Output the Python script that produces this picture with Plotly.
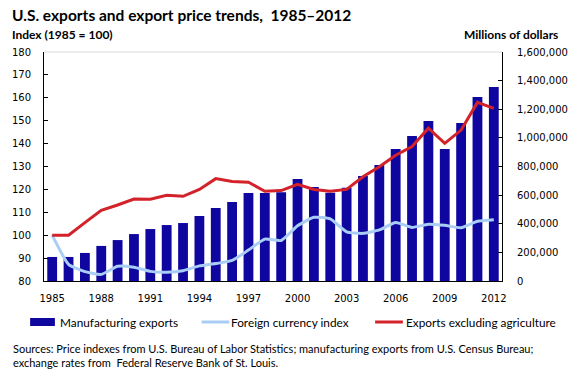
import plotly.graph_objects as go

years = list(range(1985, 2013))
manufacturing_exports = [168000, 168000, 196000, 245000, 286000, 328000, 363000, 391000, 405000,
                         454000, 510000, 552000, 615000, 615000, 620000, 713000, 657000, 617000,
                         652000, 734000, 811000, 922000, 1013000, 1118000, 922000, 1104000,
                         1286000, 1355000]
foreign_currency_index = [100, 87.3, 84.1, 82.9, 86.4, 86.0, 84.2, 83.8, 84.5, 86.6, 87.6, 89.0,
                          93.5, 98.3, 97.7, 104.1, 107.8, 107.1, 101.5, 100.8, 102.3, 105.5,
                          103.4, 104.8, 104.3, 103.3, 106.1, 106.8]
exports_excl_agriculture = [100, 100, 105.5, 110.9, 113.2, 115.8, 115.7, 117.4, 117.0, 120.0,
                            124.7, 123.5, 123.1, 119.2, 119.5, 122.2, 120.0, 119.2, 120.0, 125.5,
                            129.9, 134.9, 138.7, 146.7, 140.1, 145.9, 158.0, 155.4]
x_tick_years = list(range(1985, 2013, 3))
left_ticks = list(range(80, 181, 10))
right_ticks = list(range(0, 1600001, 200000))
right_tick_labels = [f"{v:,}" for v in right_ticks]

BAR_C = "#0F06A0"
BLUE_C = "#A9CDF5"
RED_C = "#D3222A"
TICK_FONT = dict(family="DejaVu Sans", size=10, color="#000000")
TEXT_FONT = "Lato"

L, R, T, B = 41, 503, 52, 281
W, H = 580, 380

def px_x(px):
    return (px - L) / (R - L)

def px_y(py):
    return (B - py) / (B - T)

fig = go.Figure()
fig.add_trace(go.Bar(x=years, y=manufacturing_exports, name="Manufacturing exports",
                     marker=dict(color=BAR_C, line=dict(width=0)), width=0.6, yaxis="y"))
fig.add_trace(go.Scatter(x=years, y=foreign_currency_index, name="Foreign currency index",
                         mode="lines", line=dict(color=BLUE_C, width=3, shape="spline", smoothing=0.5),
                         yaxis="y2"))
fig.add_trace(go.Scatter(x=years, y=exports_excl_agriculture, name="Exports excluding agriculture",
                         mode="lines", line=dict(color=RED_C, width=3), yaxis="y2"))

fig.update_layout(
    width=W, height=H,
    margin=dict(l=L, r=W - R, t=T, b=H - B, pad=0),
    paper_bgcolor="white", plot_bgcolor="white",
    showlegend=False,
    xaxis=dict(range=[1984.5, 2012.5], tickvals=x_tick_years, ticktext=[str(y) for y in x_tick_years],
               showgrid=False, zeroline=False, showline=True, linecolor="black", linewidth=1,
               ticks="", tickfont=TICK_FONT, ticklabelstandoff=8),
    yaxis=dict(range=[0, 1600000], side="right", tickvals=right_ticks, ticktext=right_tick_labels,
               showgrid=False, zeroline=False, showline=True, linecolor="black", linewidth=1,
               ticks="inside", ticklen=4, tickcolor="black", tickfont=TICK_FONT,
               ticklabelstandoff=12),
    yaxis2=dict(range=[80, 180], side="left", overlaying="y", tickvals=left_ticks,
                showgrid=False, zeroline=False, showline=True, linecolor="black", linewidth=1,
                ticks="inside", ticklen=4, tickcolor="black", tickfont=TICK_FONT,
                ticklabelstandoff=10),
)

shapes = [
    dict(type="line", xref="paper", yref="paper", x0=0, x1=1, y0=1, y1=1,
         line=dict(color="#D9D9D9", width=1), layer="below"),
    dict(type="rect", xref="paper", yref="paper", x0=px_x(27), x1=px_x(52), y0=px_y(326), y1=px_y(318),
         fillcolor=BAR_C, line=dict(width=0)),
    dict(type="line", xref="paper", yref="paper", x0=px_x(200), x1=px_x(228), y0=px_y(322), y1=px_y(322),
         line=dict(color=BLUE_C, width=3)),
    dict(type="line", xref="paper", yref="paper", x0=px_x(375), x1=px_x(403), y0=px_y(322), y1=px_y(322),
         line=dict(color=RED_C, width=3)),
]
fig.update_layout(shapes=shapes)

def ann(text, x, y, size, bold=False, xanchor="left"):
    fig.add_annotation(text=(f"<b>{text}</b>" if bold else text), xref="paper", yref="paper",
                       x=px_x(x), y=px_y(y), xanchor=xanchor, yanchor="middle", showarrow=False,
                       font=dict(family=TEXT_FONT, size=size, color="#000000"), align="left")

ann("U.S. exports and export price trends,  1985\u20132012", 7, 15, 15.5, bold=True)
ann("Index (1985 = 100)", 7, 35, 12, bold=True)
ann("Millions of dollars", 562, 35, 12, bold=True, xanchor="right")
ann("Manufacturing exports", 55, 322, 11.8)
ann("Foreign currency index", 228, 322, 11.8)
ann("Exports excluding agriculture", 404, 322, 11.8)
ann("Sources: Price indexes from U.S. Bureau of Labor Statistics; manufacturing exports from U.S. Census Bureau;",
    8, 348, 11)
ann("exchange rates from  Federal Reserve Bank of St. Louis.", 8, 362, 11)

fig.write_html("out.html", config={"displayModeBar": False},
               post_script="document.body.style.margin='0';document.body.style.overflow='hidden';")
